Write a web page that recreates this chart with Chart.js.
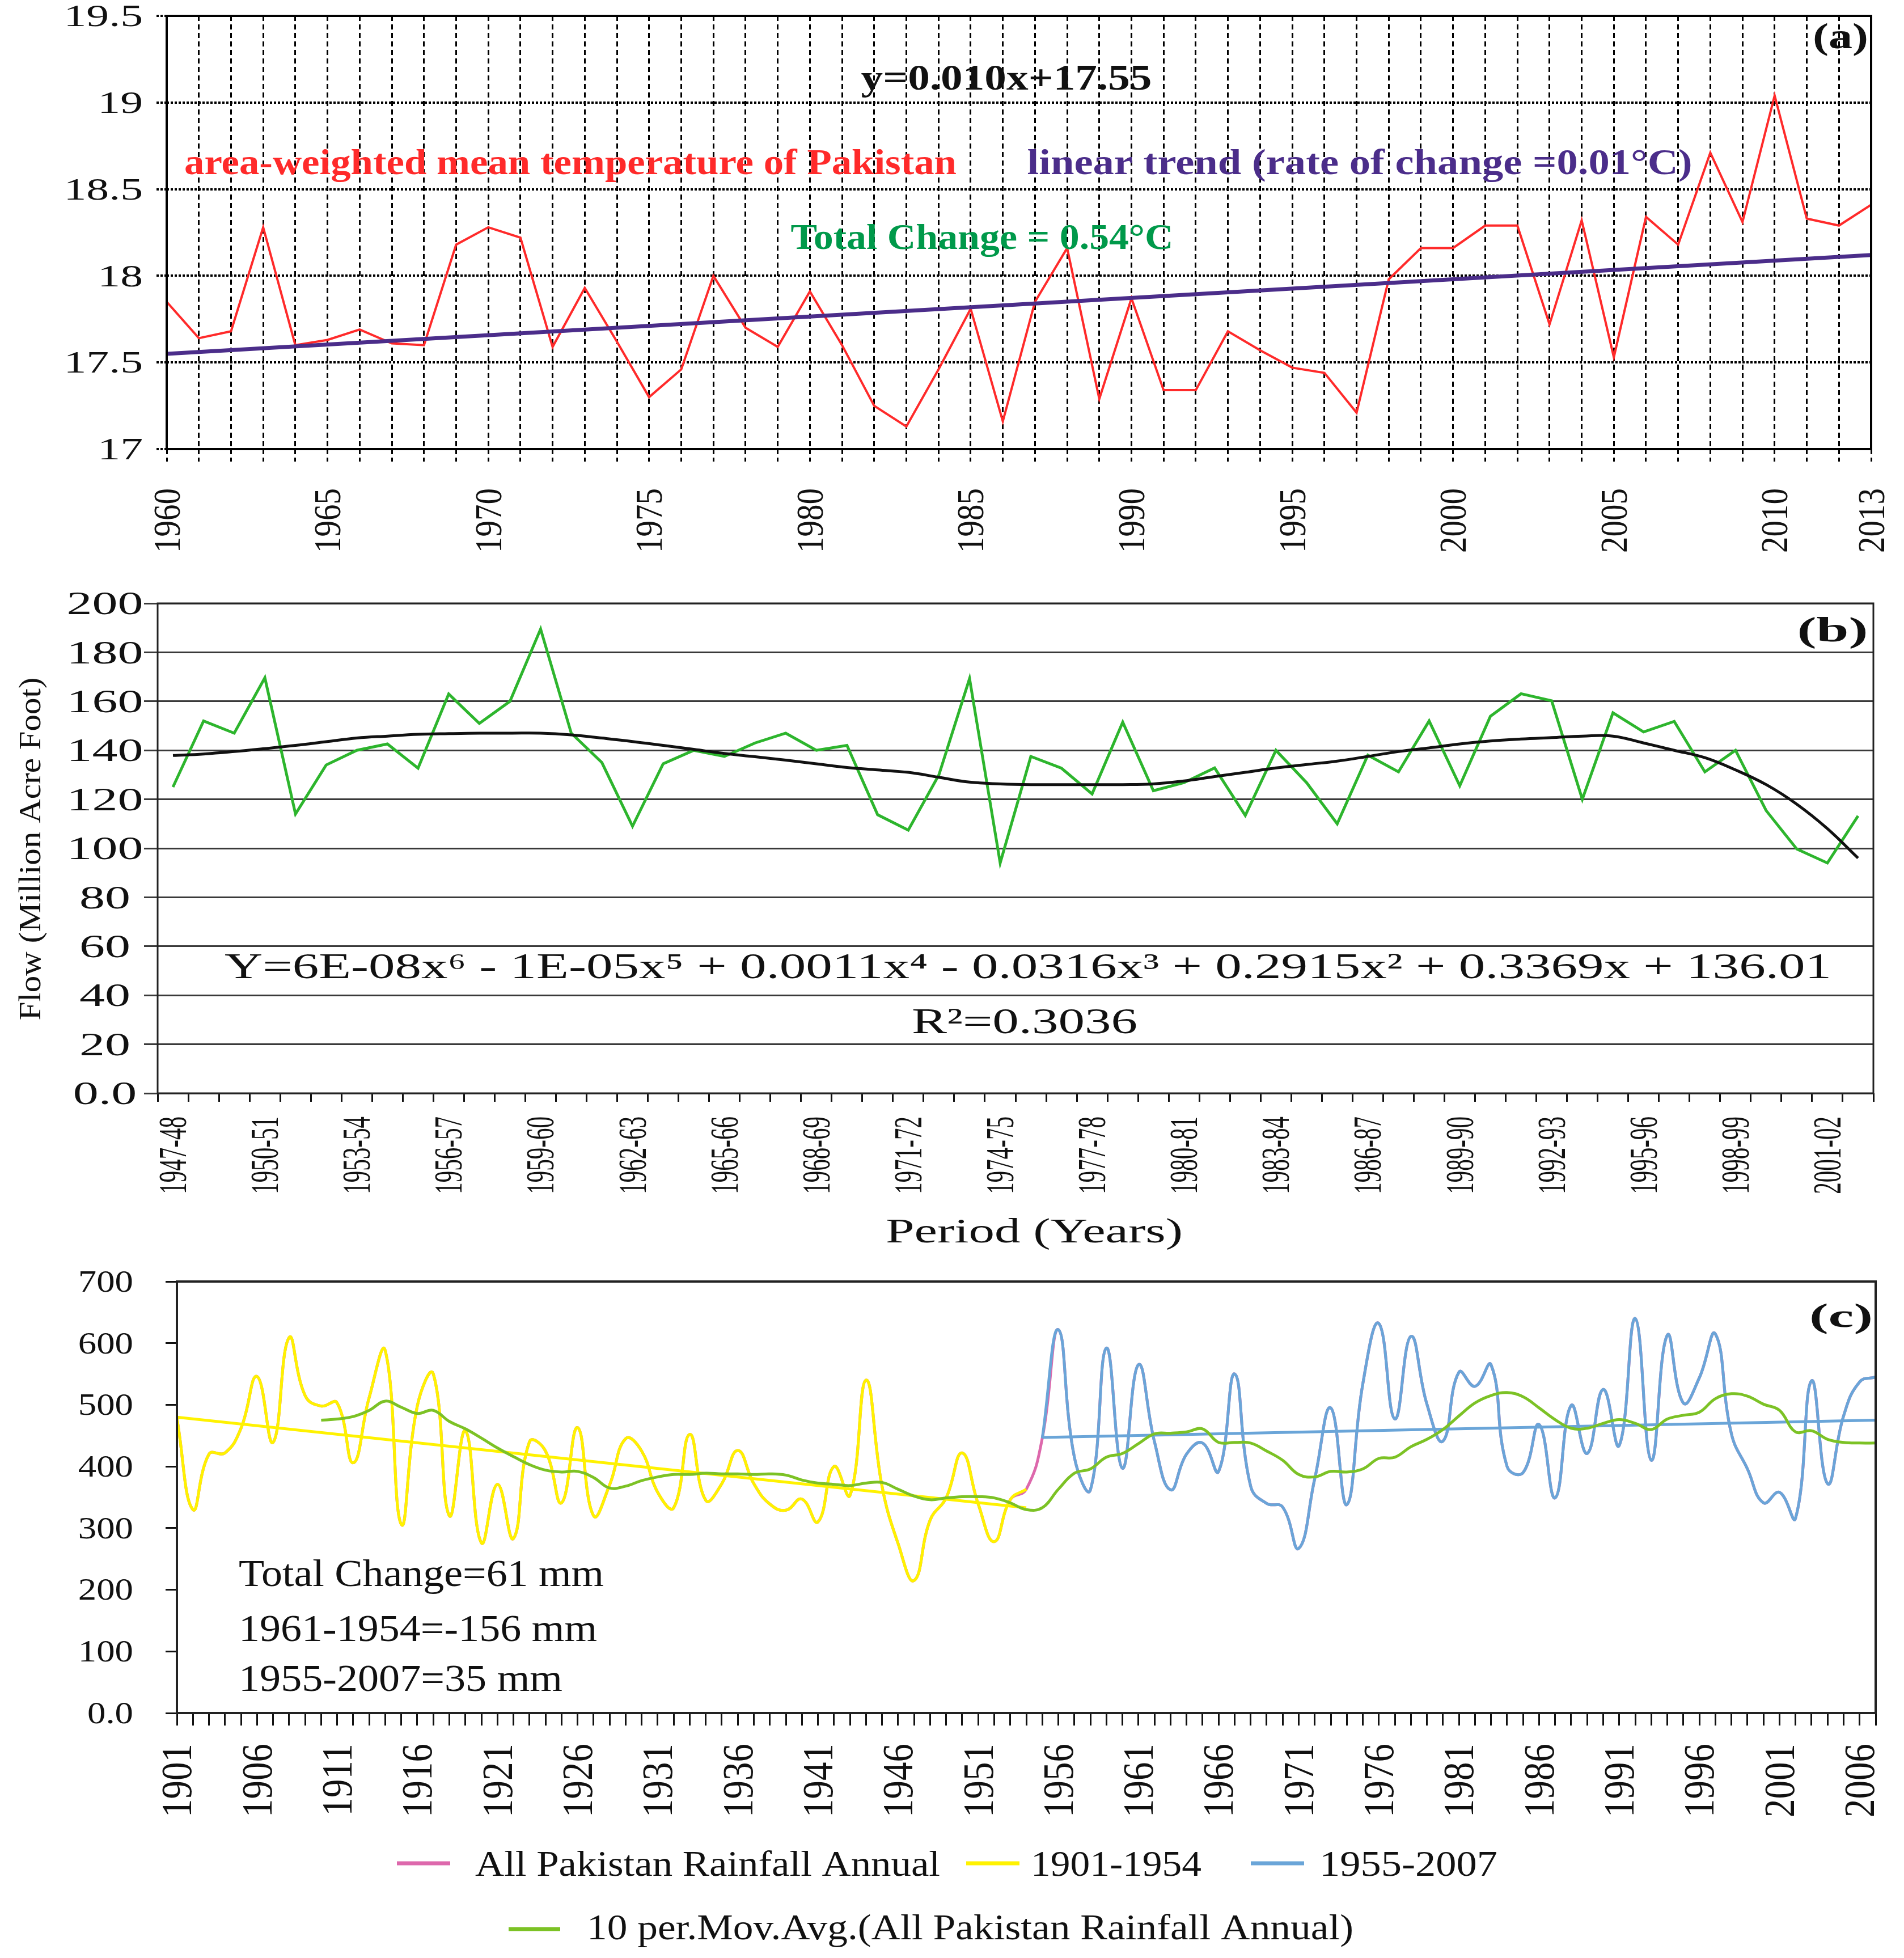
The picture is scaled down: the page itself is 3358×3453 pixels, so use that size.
<!DOCTYPE html>
<html lang="en">
<head>
<meta charset="utf-8">
<title>Pakistan temperature, Indus flow and rainfall</title>
<script src="https://cdn.jsdelivr.net/npm/chart.js@4.4.1/dist/chart.umd.min.js"></script>
<style>
  html, body { margin: 0; padding: 0; background: #fff; }
  #page { position: relative; width: 3358px; height: 3453px; background: #fff; }
  #page canvas { position: absolute; left: 0; }
</style>
</head>
<body>
<div id="page">
  <canvas id="tempChart" width="3358" height="1010" style="top:0"></canvas>
  <canvas id="flowChart" width="3358" height="1220" style="top:1010px"></canvas>
  <canvas id="rainChart" width="3358" height="1223" style="top:2230px"></canvas>
</div>
<script>
// -- (a) area-weighted mean temperature -----------------------------------
const tempYears = [1960, 1961, 1962, 1963, 1964, 1965, 1966, 1967, 1968, 1969,
    1970, 1971, 1972, 1973, 1974, 1975, 1976, 1977, 1978, 1979,
    1980, 1981, 1982, 1983, 1984, 1985, 1986, 1987, 1988, 1989,
    1990, 1991, 1992, 1993, 1994, 1995, 1996, 1997, 1998, 1999,
    2000, 2001, 2002, 2003, 2004, 2005, 2006, 2007, 2008, 2009,
    2010, 2011, 2012, 2013];
const tempValues = [17.85, 17.64, 17.68, 18.28, 17.60, 17.63, 17.69, 17.61, 17.60, 18.18,
    18.28, 18.22, 17.59, 17.93, 17.62, 17.30, 17.46, 18.00, 17.70, 17.59,
    17.91, 17.60, 17.25, 17.13, 17.46, 17.81, 17.16, 17.85, 18.16, 17.29,
    17.87, 17.34, 17.34, 17.68, 17.57, 17.47, 17.44, 17.21, 17.98, 18.16,
    18.16, 18.29, 18.29, 17.72, 18.32, 17.53, 18.34, 18.18, 18.71, 18.31,
    19.04, 18.33, 18.29, 18.41];
const tempTrendYears = [1960, 2013];
const tempTrendValues = [17.55, 18.12];
const tempYTicks = [17, 17.5, 18, 18.5, 19, 19.5];
const tempXLabels = [1960, 1965, 1970, 1975, 1980, 1985, 1990, 1995, 2000, 2005, 2010, 2013];

// -- (b) river flow -------------------------------------------------------
const flowPeriods = ['1947-48', '1948-49', '1949-50', '1950-51', '1951-52', '1952-53', '1953-54',
    '1954-55', '1955-56', '1956-57', '1957-58', '1958-59', '1959-60', '1960-61', '1961-62',
    '1962-63', '1963-64', '1964-65', '1965-66', '1966-67', '1967-68', '1968-69', '1969-70',
    '1970-71', '1971-72', '1972-73', '1973-74', '1974-75', '1975-76', '1976-77', '1977-78',
    '1978-79', '1979-80', '1980-81', '1981-82', '1982-83', '1983-84', '1984-85', '1985-86',
    '1986-87', '1987-88', '1988-89', '1989-90', '1990-91', '1991-92', '1992-93', '1993-94',
    '1994-95', '1995-96', '1996-97', '1997-98', '1998-99', '1999-00', '2000-01', '2001-02',
    '2002-03'];
const flowValues = [125, 152, 147, 169.6, 114, 134, 140, 142.6, 132.7, 163,
    151, 160, 189.5, 147, 135, 109, 134.5, 140, 137.5, 143,
    147, 140, 142, 113.7, 107.4, 130, 169.3, 94, 137.5, 132.7,
    122.2, 151.5, 123.5, 126.8, 132.8, 113.4, 140, 126.8, 110, 138,
    131.2, 152, 125.5, 153.9, 163.1, 160.2, 120, 155.3, 147.5, 151.8,
    131.2, 140, 115.4, 99.7, 94, 113.2];
const flowPolyFit = [137.9, 138.5, 139.5, 140.7, 142, 143.5, 145, 145.8, 146.5, 146.8,
    147, 147, 147, 146.3, 145, 143.6, 142, 140.4, 138.7, 137.4,
    136, 134.5, 133, 132, 131, 129, 127, 126.3, 126, 126,
    126, 126, 126.3, 127.5, 129.3, 131, 132.8, 134.2, 135.6, 137.5,
    139.5, 141, 142.6, 143.8, 144.6, 145.2, 145.8, 145.8, 143, 140,
    137, 132, 126, 118, 108, 96];
const flowYTicks = [0, 20, 40, 60, 80, 100, 120, 140, 160, 180, 200];
const flowYLabels = ['0.0', '20', '40', '60', '80', '100', '120', '140', '160', '180', '200'];
const flowXLabels = ['1947-48', '1950-51', '1953-54', '1956-57', '1959-60', '1962-63', '1965-66',
    '1968-69', '1971-72', '1974-75', '1977-78', '1980-81', '1983-84', '1986-87', '1989-90',
    '1992-93', '1995-96', '1998-99', '2001-02'];

// -- (c) all-Pakistan annual rainfall (mm) ---------------------------------
const rainEarly = [478, 330, 420, 422, 462, 546, 439, 609, 515, 498,
    503, 406, 512, 588, 306, 498, 550, 320, 458, 276,
    371, 283, 440, 425, 341, 463, 320, 370, 445, 425,
    358, 333, 452, 345, 372, 426, 372, 339, 329, 347,
    310, 400, 353, 540, 368, 275, 215, 313, 349, 422,
    339, 278, 346, 363];
const rainLate = [446, 622, 415, 362, 592, 397, 565, 440, 362, 420,
    438, 392, 550, 368, 340, 334, 267, 380, 495, 338,
    534, 632, 477, 611, 501, 441, 553, 530, 565, 400,
    390, 468, 349, 499, 421, 525, 434, 640, 410, 613,
    503, 544, 615, 453, 396, 341, 358, 316, 539, 372,
    482, 537, 545];
const rainMovAvg = [475, 477, 481, 491, 506, 496, 486, 491, 473, 461,
    446, 430, 416, 403, 394, 391, 392, 382, 365, 368,
    377, 383, 387, 387, 389, 388, 388, 387, 388, 386,
    378, 373, 371, 369, 373, 374, 363, 352, 346, 349,
    351, 351, 349, 341, 330, 333, 363, 389, 396, 415,
    421, 437, 453, 454, 456, 461, 439, 439, 438, 425,
    410, 387, 383, 392, 391, 396, 413, 415, 432, 444,
    460, 482, 503, 515, 520, 513, 495, 476, 462, 462,
    470, 476, 470, 460, 477, 483, 488, 510, 518, 514,
    501, 491, 456, 458, 444, 439, 438, 438];
const rainEarlyTrendYears = [1901, 1954];
const rainEarlyTrend = [480, 333];
const rainLateTrendYears = [1955, 2007];
const rainLateTrend = [447, 475];
const rainYTicks = [0, 100, 200, 300, 400, 500, 600, 700];
const rainYLabels = ['0.0', '100', '200', '300', '400', '500', '600', '700'];
const rainXLabels = [1901, 1906, 1911, 1916, 1921, 1926, 1931, 1936, 1941, 1946, 1951,
    1956, 1961, 1966, 1971, 1976, 1981, 1986, 1991, 1996, 2001, 2006];

// -------------------------------------------------------------------------
const SERIF = '"Liberation Serif", "Times New Roman", serif';

function yearRange(from, to) {
    const out = [];
    for (let y = from; y <= to; y++) out.push(y);
    return out;
}
const rainEarlyYears = yearRange(1901, 1954);
const rainLateYears = yearRange(1955, 2007);
const rainMovAvgYears = yearRange(1910, 2007);
const rainAllYears = rainEarlyYears.concat(rainLateYears);

const xy = (xs, ys) => xs.map((x, i) => ({ x, y: ys[i] }));
const toTicks = (vals) => vals.map((value) => ({ value }));

// Text is stretched to the width it has in the picture (the source figure is wide-set).
function drawText(ctx, text, x, y, o) {
    ctx.save();
    ctx.font = (o.bold ? 'bold ' : '') + o.size + 'px ' + SERIF;
    ctx.fillStyle = o.color || '#111';
    ctx.textAlign = o.align || 'center';
    ctx.textBaseline = 'alphabetic';
    const along = o.width ? o.width / ctx.measureText(text).width : (o.sx || 1);
    ctx.translate(x, y);
    if (o.rotate) ctx.rotate(o.rotate);
    ctx.scale(along, o.sy || 1);
    ctx.fillText(text, 0, o.shift || 0);
    ctx.restore();
}

function framePlugin(color, width) {
    return {
        id: 'frame',
        afterDatasetsDraw(chart) {
            const { left, top, right, bottom } = chart.chartArea;
            const ctx = chart.ctx;
            ctx.save();
            ctx.strokeStyle = color;
            ctx.lineWidth = width;
            ctx.strokeRect(left, top, right - left, bottom - top);
            ctx.restore();
        },
    };
}

function notesPlugin(items) {
    return {
        id: 'notes',
        afterDraw(chart) {
            items.forEach((n) => drawText(chart.ctx, n.text, n.x, n.y, n));
        },
    };
}

// Tick labels placed through the chart's own scales.
function tickTextPlugin(specs) {
    return {
        id: 'tickText',
        afterDraw(chart) {
            const ctx = chart.ctx;
            const area = chart.chartArea;
            specs.forEach((s) => {
                const scale = chart.scales[s.scale];
                s.values.forEach((v, i) => {
                    const text = s.labels ? s.labels[i] : String(v);
                    const p = scale.getPixelForValue(v);
                    if (scale.isHorizontal()) {
                        drawText(ctx, text, p, area.bottom + s.gap, {
                            size: s.size, sy: s.stretch, align: 'right',
                            rotate: -Math.PI / 2, shift: 0.33 * s.size,
                        });
                    } else {
                        drawText(ctx, text, s.x, p, {
                            size: s.size, sx: s.stretch, align: s.align, shift: 0.33 * s.size,
                        });
                    }
                });
            });
        },
    };
}

function lineKeyPlugin(items) {
    return {
        id: 'lineKey',
        afterDraw(chart) {
            const ctx = chart.ctx;
            items.forEach((k) => {
                const ds = chart.data.datasets.find((d) => d.label === k.label);
                ctx.save();
                ctx.strokeStyle = ds.borderColor;
                ctx.lineWidth = 7;
                ctx.beginPath();
                ctx.moveTo(k.x1, k.y);
                ctx.lineTo(k.x2, k.y);
                ctx.stroke();
                ctx.restore();
                drawText(ctx, ds.label, k.tx, k.ty, { size: 64, width: k.tw, align: 'left' });
            });
        },
    };
}

const baseOptions = (pad) => ({
    responsive: false,
    animation: false,
    devicePixelRatio: 1,
    layout: { padding: pad },
    plugins: { legend: { display: false }, tooltip: { enabled: false } },
    elements: { point: { radius: 0 } },
});

// -- (a) ------------------------------------------------------------------
new Chart(document.getElementById('tempChart'), {
    type: 'line',
    data: {
        datasets: [
            {
                label: 'linear trend (rate of change =0.01°C)',
                data: xy(tempTrendYears, tempTrendValues),
                borderColor: '#4b2d8a', borderWidth: 7, tension: 0,
            },
            {
                label: 'area-weighted mean temperature of Pakistan',
                data: xy(tempYears, tempValues),
                borderColor: '#ff2a2a', borderWidth: 4, tension: 0,
            },
        ],
    },
    options: {
        ...baseOptions({ left: 0, top: 28, right: 58, bottom: 0 }),
        scales: {
            x: {
                type: 'linear', min: 1960, max: 2013,
                afterBuildTicks: (s) => { s.ticks = toTicks(tempYears); },
                afterFit: (s) => { s.height = 218; },
                ticks: { display: false },
                grid: {
                    color: '#000', lineWidth: 3, tickLength: 22, tickColor: '#000',
                    tickWidth: 3, tickBorderDash: [9, 6],
                },
                border: { display: false, dash: [9, 6] },
            },
            y: {
                min: 17, max: 19.5,
                afterBuildTicks: (s) => { s.ticks = toTicks(tempYTicks); },
                afterFit: (s) => { s.width = 294; },
                ticks: { display: false },
                grid: {
                    color: '#000', lineWidth: 4, tickLength: 18, tickColor: '#000',
                    tickWidth: 4, tickBorderDash: [4, 3],
                },
                border: { display: false, dash: [4, 3] },
            },
        },
    },
    plugins: [
        framePlugin('#000', 4),
        tickTextPlugin([
            { scale: 'y', values: tempYTicks, x: 252, align: 'right', size: 55, stretch: 1.45 },
            { scale: 'x', values: tempXLabels, gap: 69, size: 57, stretch: 1.2 },
        ]),
        notesPlugin([
            { text: 'y=0.010x+17.55', x: 1775, y: 158, size: 64, bold: true, color: '#111', width: 513 },
            { text: 'area-weighted mean temperature of Pakistan', x: 1006, y: 307, size: 64, bold: true, color: '#ff2a2a', width: 1362 },
            { text: 'linear trend (rate of change =0.01°C)', x: 2398, y: 307, size: 64, bold: true, color: '#4b2d8a', width: 1173 },
            { text: 'Total Change = 0.54°C', x: 1732, y: 439, size: 64, bold: true, color: '#00994a', width: 675 },
            { text: '(a)', x: 3246, y: 85, size: 64, bold: true, color: '#111', width: 98 },
        ]),
    ],
});

// -- (b) ------------------------------------------------------------------
new Chart(document.getElementById('flowChart'), {
    type: 'line',
    data: {
        labels: flowPeriods,
        datasets: [
            {
                label: 'Poly. (Flow)',
                data: flowPolyFit,
                borderColor: '#111', borderWidth: 5, tension: 0.4,
            },
            {
                label: 'Flow (Million Acre Foot)',
                data: flowValues,
                borderColor: '#2db52d', borderWidth: 5, tension: 0,
            },
        ],
    },
    options: {
        ...baseOptions({ left: 0, top: 54, right: 54, bottom: 0 }),
        scales: {
            x: {
                type: 'category', offset: true,
                afterFit: (s) => { s.height = 302; },
                ticks: { display: false, autoSkip: false },
                grid: {
                    offset: true, drawOnChartArea: false, color: '#111', lineWidth: 3,
                    tickLength: 15, tickColor: '#111', tickWidth: 3,
                },
                border: { display: false },
            },
            y: {
                min: 0, max: 200,
                afterBuildTicks: (s) => { s.ticks = toTicks(flowYTicks); },
                afterFit: (s) => { s.width = 278; },
                ticks: { display: false },
                grid: { color: '#3a3a3a', lineWidth: 3, tickLength: 24, tickColor: '#3a3a3a', tickWidth: 3 },
                border: { display: false },
            },
        },
    },
    plugins: [
        framePlugin('#222', 3),
        tickTextPlugin([
            { scale: 'y', values: flowYTicks, labels: flowYLabels, x: 185, align: 'center', size: 58, stretch: 1.55 },
            { scale: 'x', values: flowXLabels.map((l) => flowPeriods.indexOf(l)), labels: flowXLabels, gap: 41, size: 41, stretch: 1.7 },
        ]),
        notesPlugin([
            { text: 'Y=6E-08x\u2076 - 1E-05x\u2075 + 0.0011x\u2074 - 0.0316x\u00b3 + 0.2915x\u00b2 + 0.3369x + 136.01', x: 1813, y: 715, size: 64, width: 2834 },
            { text: 'R\u00b2=0.3036', x: 1807, y: 812, size: 64, width: 398 },
            { text: '(b)', x: 3232, y: 121, size: 62, bold: true, width: 125 },
            { text: 'Period (Years)', x: 1824, y: 1181, size: 62, width: 524 },
            { text: 'Flow (Million Acre Foot)', x: 54, y: 487, size: 54, width: 605, rotate: -Math.PI / 2, shift: 17 },
        ]),
    ],
});

// -- (c) ------------------------------------------------------------------
new Chart(document.getElementById('rainChart'), {
    type: 'line',
    data: {
        datasets: [
            {
                label: '10 per.Mov.Avg.(All Pakistan Rainfall Annual)',
                data: xy(rainMovAvgYears, rainMovAvg),
                borderColor: '#7cc225', borderWidth: 5, tension: 0.4,
            },
            {
                label: 'Linear (1901-1954)',
                data: xy(rainEarlyTrendYears, rainEarlyTrend),
                borderColor: '#fff200', borderWidth: 5, tension: 0,
            },
            {
                label: 'Linear (1955-2007)',
                data: xy(rainLateTrendYears, rainLateTrend),
                borderColor: '#6aa5d8', borderWidth: 5, tension: 0,
            },
            {
                label: '1901-1954',
                data: xy(rainEarlyYears, rainEarly),
                borderColor: '#fff200', borderWidth: 5, tension: 0.45,
            },
            {
                label: '1955-2007',
                data: xy(rainLateYears, rainLate),
                borderColor: '#6aa5d8', borderWidth: 5, tension: 0.45,
            },
            {
                label: 'All Pakistan Rainfall Annual',
                data: xy(rainAllYears, rainEarly.concat(rainLate)),
                borderColor: '#dd68ac', borderWidth: 5, tension: 0.45,
            },
        ],
    },
    options: {
        ...baseOptions({ left: 0, top: 30, right: 50, bottom: 0 }),
        scales: {
            x: {
                type: 'linear', min: 1901, max: 2007,
                afterBuildTicks: (s) => { s.ticks = toTicks(rainAllYears); },
                afterFit: (s) => { s.height = 432; },
                ticks: { display: false },
                grid: { drawOnChartArea: false, color: '#111', lineWidth: 3, tickLength: 22, tickColor: '#111', tickWidth: 3 },
                border: { display: false },
            },
            y: {
                min: 0, max: 700,
                afterBuildTicks: (s) => { s.ticks = toTicks(rainYTicks); },
                afterFit: (s) => { s.width = 312; },
                ticks: { display: false },
                grid: { drawOnChartArea: false, color: '#111', lineWidth: 3, tickLength: 20, tickColor: '#111', tickWidth: 3 },
                border: { display: false },
            },
        },
    },
    plugins: [
        framePlugin('#222', 4),
        tickTextPlugin([
            { scale: 'y', values: rainYTicks, labels: rainYLabels, x: 235, align: 'right', size: 54, stretch: 1.2 },
            { scale: 'x', values: rainXLabels, gap: 54, size: 65, stretch: 1.18 },
        ]),
        notesPlugin([
            { text: 'Total Change=61 mm', x: 421, y: 567, size: 68, width: 644, align: 'left' },
            { text: '1961-1954=-156 mm', x: 421, y: 664, size: 68, width: 632, align: 'left' },
            { text: '1955-2007=35 mm', x: 421, y: 752, size: 68, width: 571, align: 'left' },
            { text: '(c)', x: 3247, y: 110, size: 60, bold: true, width: 112 },
        ]),
        lineKeyPlugin([
            { label: 'All Pakistan Rainfall Annual', x1: 700, x2: 794, y: 1056, tx: 838, ty: 1078, tw: 820 },
            { label: '1901-1954', x1: 1704, x2: 1798, y: 1056, tx: 1818, ty: 1078, tw: 301 },
            { label: '1955-2007', x1: 2206, x2: 2300, y: 1056, tx: 2327, ty: 1078, tw: 314 },
            { label: '10 per.Mov.Avg.(All Pakistan Rainfall Annual)', x1: 897, x2: 988, y: 1172, tx: 1035, ty: 1190, tw: 1352 },
        ]),
    ],
});
</script>
</body>
</html>
